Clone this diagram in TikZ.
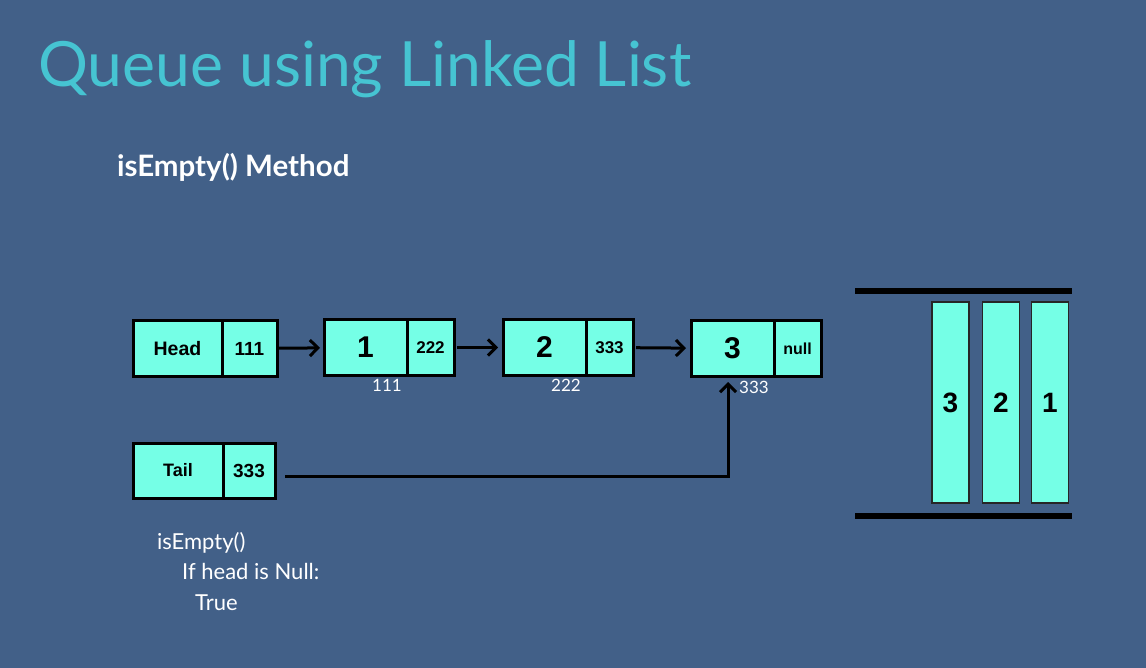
\documentclass[tikz,border=0pt]{standalone}
\usepackage{fontspec}
\setmainfont{Liberation Sans}
\newfontfamily\titlefont{Lato}
\usepackage{xcolor}
\usetikzlibrary{positioning,arrows.meta}

\definecolor{slidebg}{RGB}{66,96,136}
\definecolor{titlecyan}{RGB}{70,196,210}
\definecolor{cellfill}{RGB}{117,255,230}

\begin{document}
\begin{tikzpicture}[
    x=1pt, y=-1pt,
    cell/.style={rectangle, draw=black, fill=cellfill, line width=3pt, outer sep=0pt,
                 minimum height=55pt, inner sep=0pt, text=black},
    datacell/.style={cell, minimum width=83pt, font=\bfseries\fontsize{30}{30}\selectfont},
    ptrcell/.style={cell, minimum width=47pt, font=\bfseries\fontsize{17}{17}\selectfont},
    addr/.style={text=white, font=\titlefont\fontsize{17}{17}\selectfont},
    code/.style={anchor=base west, inner sep=0pt, text=white, font=\titlefont\fontsize{22}{22}\selectfont},
    stackcell/.style={rectangle, draw=black!85, fill=cellfill, line width=1.3pt,
                 minimum width=37pt, minimum height=201pt, inner sep=0pt,
                 font=\bfseries\fontsize{28}{28}\selectfont},
    arrow/.style={line width=3pt, -{Straight Barb[length=8pt,width=16pt]}}
]
    % Background
    \fill[slidebg] (0,0) rectangle (1146,668);

    % Titles
    \node[anchor=base west, inner sep=0pt, text=titlecyan, font=\titlefont\fontsize{62.4}{62.4}\selectfont]
        (title) at (38,87) {Queue using Linked List};
    \node[anchor=base west, inner sep=0pt, text=white, font=\titlefont\bfseries\fontsize{29.5}{29.5}\selectfont]
        (subtitle) at (117,177) {isEmpty() Method};

    % Head and Tail
    \node[datacell, minimum width=89pt, font=\bfseries\fontsize{19.5}{19.5}\selectfont]
        (head) at (177.5,348.5) {Head};
    \node[ptrcell, minimum width=55pt, font=\bfseries\fontsize{19}{19}\selectfont,
        right=0pt of head] (headptr) {111};
    \node[datacell, minimum width=90pt, font=\bfseries\fontsize{18}{18}\selectfont]
        (tail) at (178,470.5) {Tail};
    \node[ptrcell, minimum width=52pt, font=\bfseries\fontsize{19}{19}\selectfont,
        right=0pt of tail] (tailptr) {333};

    % Linked list nodes
    \node[datacell] (one) at (365.5,347.5) {1};
    \node[ptrcell, right=0pt of one] (oneptr) {222};
    \node[datacell] (two) at (544.5,347.5) {2};
    \node[ptrcell, right=0pt of two] (twoptr) {333};
    \node[datacell] (three) at (732.5,348.5) {3};
    \node[ptrcell, font=\bfseries\fontsize{16}{16}\selectfont, right=0pt of three] (threeptr) {null};

    % Addresses
    \node[addr] (addrone) at (387,385) {111};
    \node[addr] (addrtwo) at (566,385) {222};
    \node[addr] (addrthree) at (754,387) {333};

    % Arrows
    \draw[arrow, shorten <=2pt, shorten >=4pt] (headptr) -- (one);
    \draw[arrow, shorten <=3pt, shorten >=5pt] (oneptr) -- (two);
    \draw[arrow, shorten <=3pt, shorten >=5pt] (twoptr) -- (three);
    \coordinate (tailstart) at (285,476);
    \coordinate (tailbend) at (728,476);
    \coordinate (tailend) at (728,382);
    \draw[arrow] (tailstart) -- (tailbend) -- (tailend);

    % Pseudo code
    \node[code] (codeone) at (157,549) {isEmpty()};
    \node[code] (codetwo) at (182,579) {If head is Null:};
    \node[code] (codethree) at (195,610) {True};

    % Queue
    \draw[line width=6pt] (855,291) -- (1072,291);
    \draw[line width=6pt] (855,515.5) -- (1072,515.5);
    \node[stackcell] (qthree) at (950.5,402.5) {3};
    \node[stackcell] (qtwo) at (1001,402.5) {2};
    \node[stackcell] (qone) at (1050,402.5) {1};
\end{tikzpicture}
\end{document}
